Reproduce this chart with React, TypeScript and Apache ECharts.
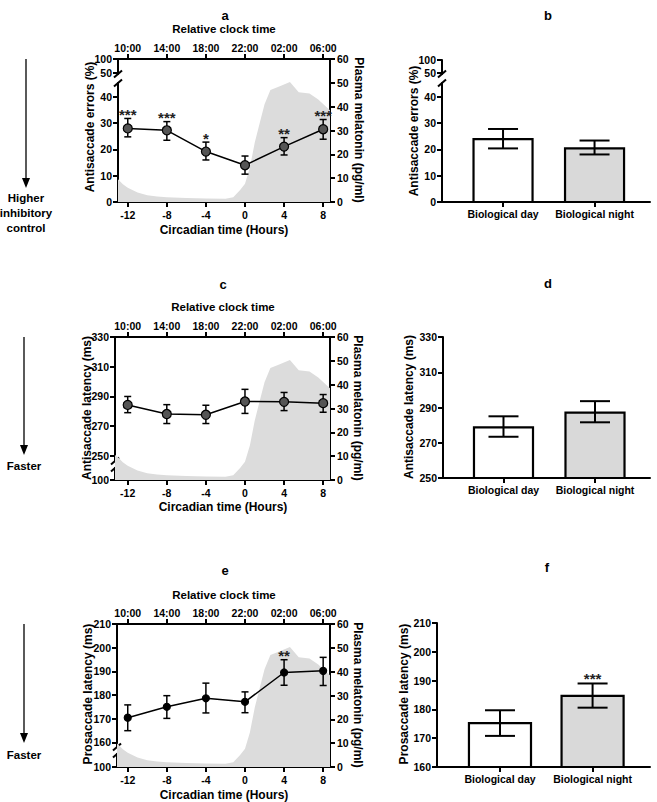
import React, { useEffect, useRef } from 'react';
import * as echarts from 'echarts';

// ---------- data ----------
const circadianHours = [-12, -8, -4, 0, 4, 8];
const clockLabels = ['10:00', '14:00', '18:00', '22:00', '02:00', '06:00'];

const antiErrMean = [28.0, 27.3, 19.2, 14.0, 21.1, 27.7];
const antiErrLow = [24.8, 23.5, 16.0, 10.6, 17.9, 23.9];
const antiErrHigh = [31.8, 30.6, 22.8, 17.5, 24.5, 31.4];
const antiErrStars = ['***', '***', '*', '', '**', '***'];

const antiLatMean = [284.3, 278.2, 277.7, 286.6, 286.4, 285.5];
const antiLatLow = [279.1, 271.8, 271.8, 278.6, 280.5, 279.4];
const antiLatHigh = [290.0, 284.5, 284.1, 294.8, 292.7, 291.3];
const antiLatStars = ['', '', '', '', '', ''];

const proLatMean = [170.4, 175.0, 178.6, 177.1, 189.5, 190.2];
const proLatLow = [164.9, 170.1, 172.4, 172.5, 184.1, 184.0];
const proLatHigh = [175.8, 179.7, 185.0, 181.3, 194.9, 195.9];
const proLatStars = ['', '', '', '', '**', ''];

const melatoninHours = [-13.3, -13, -12.5, -12, -11, -10, -9, -8, -6, -4, -2, -1.2, -0.5, 0, 0.5, 1, 1.5, 2, 2.6, 3.5, 4.6, 5.5, 6.6, 7.5, 8.3, 8.7];
const melatoninValues = [10.5, 9.5, 7.5, 6, 4, 2.8, 2.3, 2, 1.7, 1.5, 1.4, 2, 5, 7.7, 14.5, 25, 33, 41, 47, 48.5, 50.4, 46, 45.5, 43, 40, 38.5];

const bioCategories = ['Biological day', 'Biological night'];
const bioAntiErrMean = [23.9, 20.4];
const bioAntiErrLow = [20.4, 18.1];
const bioAntiErrHigh = [27.8, 23.4];
const bioAntiErrStars = ['', ''];
const bioAntiLatMean = [278.7, 287.1];
const bioAntiLatLow = [273.4, 281.6];
const bioAntiLatHigh = [285.0, 293.6];
const bioAntiLatStars = ['', ''];
const bioProLatMean = [175.2, 184.7];
const bioProLatLow = [170.8, 180.6];
const bioProLatHigh = [179.7, 189.0];
const bioProLatStars = ['', '***'];
const bioFills = ['#ffffff', '#d9d9d9'];

const FONT = '"Liberation Sans", Arial, Helvetica, sans-serif';

// ---------- helpers ----------
const axisLine = (show = true) => ({ show, onZero: false, lineStyle: { color: '#000', width: 2 } });
const ticks = (vals: number[], inside = false) => ({
  show: true, length: 5, inside, customValues: vals, lineStyle: { color: '#000', width: 2 },
});
const labels = (vals: number[], margin: number, formatter?: (v: number) => string) => ({
  show: true, customValues: vals, margin, color: '#000', fontFamily: FONT, fontWeight: 'bold', fontSize: 10.5,
  formatter: formatter || ((v: number) => String(v)),
});

const txt = (text: string, x: number, y: number, size: number, rotation = 0) => ({
  type: 'text', x, y, rotation, silent: true,
  style: {
    text, fill: '#000', fontFamily: FONT, fontWeight: 'bold', fontSize: size,
    align: 'center', verticalAlign: 'middle', textAlign: 'center', textVerticalAlign: 'middle',
  },
});

const seg = (x1: number, y1: number, x2: number, y2: number, w = 1.5) => ({
  type: 'line', silent: true, shape: { x1, y1, x2, y2 }, style: { stroke: '#000', lineWidth: w },
});

const arrow = (x: number, y1: number, y2: number) => ([
  seg(x, y1, x, y2 - 8, 1.3),
  { type: 'polygon', silent: true, shape: { points: [[x - 4, y2 - 10], [x + 4, y2 - 10], [x, y2]] }, style: { fill: '#000' } },
]);

const slashPair = (x: number, yA: number, yB: number) => ([
  seg(x - 4, yA + 3.5, x + 4, yA - 3.5, 2),
  seg(x - 4, yB + 3.5, x + 4, yB - 3.5, 2),
]);

function errorRender(stars: string[], capHalf: number, lw: number) {
  return (params: any, api: any) => {
    const x = api.value(0);
    const lo = api.coord([x, api.value(1)]);
    const hi = api.coord([x, api.value(2)]);
    const st = { stroke: '#000', lineWidth: lw };
    const children: any[] = [
      { type: 'line', shape: { x1: lo[0], y1: lo[1], x2: hi[0], y2: hi[1] }, style: st },
      { type: 'line', shape: { x1: hi[0] - capHalf, y1: hi[1], x2: hi[0] + capHalf, y2: hi[1] }, style: st },
      { type: 'line', shape: { x1: lo[0] - capHalf, y1: lo[1], x2: lo[0] + capHalf, y2: lo[1] }, style: st },
    ];
    const s = stars[params.dataIndex];
    if (s) {
      children.push({
        type: 'text', x: hi[0], y: hi[1] - 4,
        style: { text: s, fill: '#222', fontFamily: FONT, fontWeight: 'bold', fontSize: 15, align: 'center', verticalAlign: 'middle' },
      });
    }
    return { type: 'group', children };
  };
}

function barRender(base: number, barW: number, stars: string[]) {
  return (params: any, api: any) => {
    const x = api.value(0);
    const v = api.value(1);
    const top = api.coord([x, v]);
    const bot = api.coord([x, base]);
    const w = api.size([barW, 0])[0];
    const lo = api.coord([x, api.value(2)]);
    const hi = api.coord([x, api.value(3)]);
    const st = { stroke: '#000', lineWidth: 2 };
    const capHalf = 15;
    const children: any[] = [
      { type: 'rect', shape: { x: top[0] - w / 2, y: top[1], width: w, height: bot[1] - top[1] }, style: { fill: bioFills[params.dataIndex], stroke: '#000', lineWidth: 2.2 } },
      { type: 'line', shape: { x1: lo[0], y1: lo[1], x2: hi[0], y2: hi[1] }, style: st },
      { type: 'line', shape: { x1: hi[0] - capHalf, y1: hi[1], x2: hi[0] + capHalf, y2: hi[1] }, style: st },
      { type: 'line', shape: { x1: lo[0] - capHalf, y1: lo[1], x2: lo[0] + capHalf, y2: lo[1] }, style: st },
    ];
    const s = stars[params.dataIndex];
    if (s) {
      children.push({
        type: 'text', x: hi[0], y: hi[1] - 5,
        style: { text: s, fill: '#222', fontFamily: FONT, fontWeight: 'bold', fontSize: 15, align: 'center', verticalAlign: 'middle' },
      });
    }
    return { type: 'group', children };
  };
}

// ---------- panel layouts ----------
const linePanels = [
  {
    left: 118, top: 59, width: 212, height: 143, xMin: -13,
    up: { top: 59, height: 15, min: 45, max: 100, ticks: [50, 100] },
    low: { top: 83, height: 119, min: 0, max: 45.3, ticks: [0, 10, 20, 30, 40] },
    dataOn: 'low', mean: antiErrMean, lo: antiErrLow, hi: antiErrHigh, stars: antiErrStars,
    markerColor: '#555', markerSize: 9,
  },
  {
    left: 115, top: 337, width: 215, height: 143, xMin: -13.3,
    up: { top: 337, height: 124, min: 246.6, max: 330, ticks: [250, 270, 290, 310, 330] },
    low: { top: 468, height: 12, min: 100, max: 108, ticks: [100] },
    dataOn: 'up', mean: antiLatMean, lo: antiLatLow, hi: antiLatHigh, stars: antiLatStars,
    markerColor: '#555', markerSize: 9,
  },
  {
    left: 117, top: 624, width: 213, height: 143, xMin: -13.1,
    up: { top: 624, height: 123, min: 158, max: 210, ticks: [160, 170, 180, 190, 200, 210] },
    low: { top: 754, height: 13, min: 100, max: 106, ticks: [100] },
    dataOn: 'up', mean: proLatMean, lo: proLatLow, hi: proLatHigh, stars: proLatStars,
    markerColor: '#000', markerSize: 7,
  },
];
const X_MAX = 8.7;

const barPanels = [
  {
    left: 442, width: 208, xMin: -0.667, xMax: 1.606, barW: 0.645,
    segments: [
      { top: 60, height: 14, min: 46, max: 100, ticks: [50, 100], main: false },
      { top: 83, height: 119, min: 0, max: 45.3, ticks: [0, 10, 20, 30, 40], main: true },
    ],
    mean: bioAntiErrMean, lo: bioAntiErrLow, hi: bioAntiErrHigh, stars: bioAntiErrStars,
  },
  {
    left: 443, width: 207, xMin: -0.661, xMax: 1.601, barW: 0.645,
    segments: [{ top: 337, height: 141, min: 250, max: 330, ticks: [250, 270, 290, 310, 330], main: true }],
    mean: bioAntiLatMean, lo: bioAntiLatLow, hi: bioAntiLatHigh, stars: bioAntiLatStars,
  },
  {
    left: 437, width: 213, xMin: -0.68, xMax: 1.62, barW: 0.67,
    segments: [{ top: 623, height: 144, min: 160, max: 210, ticks: [160, 170, 180, 190, 200, 210], main: true }],
    mean: bioProLatMean, lo: bioProLatLow, hi: bioProLatHigh, stars: bioProLatStars,
  },
];

function buildOption() {
  const grid: any[] = [];
  const xAxis: any[] = [];
  const yAxis: any[] = [];
  const series: any[] = [];
  const melData = melatoninHours.map((h, i) => [h, melatoninValues[i]]);
  const hiddenX = (gi: number, min: number, max: number) => ({ type: 'value', gridIndex: gi, min, max, show: false });

  linePanels.forEach((p) => {
    const gMain = grid.length;
    grid.push({ left: p.left, top: p.top, width: p.width, height: p.height });
    const xBottom = xAxis.length;
    xAxis.push({
      type: 'value', gridIndex: gMain, position: 'bottom', min: p.xMin, max: X_MAX,
      axisLine: axisLine(), axisTick: ticks(circadianHours), axisLabel: labels(circadianHours, 7),
      splitLine: { show: false },
    });
    xAxis.push({
      type: 'value', gridIndex: gMain, position: 'top', min: p.xMin, max: X_MAX,
      axisLine: axisLine(), axisTick: ticks(circadianHours),
      axisLabel: labels(circadianHours, 6, (v: number) => clockLabels[circadianHours.indexOf(v)] || ''),
      splitLine: { show: false },
    });
    const yMel = yAxis.length;
    yAxis.push({
      type: 'value', gridIndex: gMain, position: 'right', min: 0, max: 60, interval: 10,
      axisLine: axisLine(), axisTick: ticks([0, 10, 20, 30, 40, 50, 60]),
      axisLabel: labels([0, 10, 20, 30, 40, 50, 60], 7), splitLine: { show: false },
    });
    series.push({
      type: 'line', xAxisIndex: xBottom, yAxisIndex: yMel, data: melData, showSymbol: false, symbol: 'none',
      lineStyle: { width: 0, color: '#dcdcdc' }, areaStyle: { color: '#dcdcdc', opacity: 1 }, silent: true, z: 1, clip: true,
    });

    const segIdx: Record<string, { x: number; y: number }> = {};
    (['up', 'low'] as const).forEach((k) => {
      const s = (p as any)[k];
      const gi = grid.length;
      grid.push({ left: p.left, top: s.top, width: p.width, height: s.height });
      const xi = xAxis.length;
      xAxis.push(hiddenX(gi, p.xMin, X_MAX));
      const yi = yAxis.length;
      yAxis.push({
        type: 'value', gridIndex: gi, position: 'left', min: s.min, max: s.max,
        axisLine: axisLine(), axisTick: ticks(s.ticks), axisLabel: labels(s.ticks, 6), splitLine: { show: false },
      });
      segIdx[k] = { x: xi, y: yi };
    });
    const d = segIdx[p.dataOn];
    series.push({
      type: 'custom', xAxisIndex: d.x, yAxisIndex: d.y, z: 3, silent: true,
      data: circadianHours.map((h, i) => [h, p.lo[i], p.hi[i]]),
      renderItem: errorRender(p.stars, 3.5, 1.5),
    });
    series.push({
      type: 'line', xAxisIndex: d.x, yAxisIndex: d.y, z: 4, silent: true,
      data: circadianHours.map((h, i) => [h, p.mean[i]]),
      symbol: 'circle', symbolSize: p.markerSize, showSymbol: true,
      lineStyle: { color: '#000', width: 1.5 },
      itemStyle: { color: p.markerColor, borderColor: '#000', borderWidth: 1.2 },
    });
  });

  barPanels.forEach((p) => {
    p.segments.forEach((s) => {
      const gi = grid.length;
      grid.push({ left: p.left, top: s.top, width: p.width, height: s.height });
      const xi = xAxis.length;
      if (s.main) {
        xAxis.push({
          type: 'value', gridIndex: gi, position: 'bottom', min: p.xMin, max: p.xMax,
          axisLine: axisLine(), axisTick: ticks([0, 1]),
          axisLabel: labels([0, 1], 6, (v: number) => bioCategories[v] || ''), splitLine: { show: false },
        });
      } else {
        xAxis.push(hiddenX(gi, p.xMin, p.xMax));
      }
      const yi = yAxis.length;
      yAxis.push({
        type: 'value', gridIndex: gi, position: 'left', min: s.min, max: s.max,
        axisLine: axisLine(), axisTick: ticks(s.ticks), axisLabel: labels(s.ticks, 6), splitLine: { show: false },
      });
      if (s.main) {
        series.push({
          type: 'custom', xAxisIndex: xi, yAxisIndex: yi, z: 3, silent: true,
          data: bioCategories.map((_, i) => [i, p.mean[i], p.lo[i], p.hi[i]]),
          renderItem: barRender(s.min, p.barW, p.stars),
        });
      }
    });
  });

  const graphic: any[] = [
    txt('a', 225, 15, 13), txt('b', 548, 15, 13),
    txt('c', 223, 284, 13), txt('d', 548, 283, 13),
    txt('e', 225, 570, 13), txt('f', 547, 567, 13),
    txt('Relative clock time', 224, 29, 11.5),
    txt('Relative clock time', 223, 307, 11.5),
    txt('Relative clock time', 224, 595, 11.5),
    txt('Circadian time (Hours)', 224, 230, 12),
    txt('Circadian time (Hours)', 223, 507, 12),
    txt('Circadian time (Hours)', 224, 795, 12),
    txt('Antisaccade errors (%)', 90, 127, 12, Math.PI / 2),
    txt('Antisaccade latency (ms)', 87, 408, 12, Math.PI / 2),
    txt('Prosaccade latency (ms)', 88, 694, 12, Math.PI / 2),
    txt('Plasma melatonin (pg/ml)', 359, 130, 12, -Math.PI / 2),
    txt('Plasma melatonin (pg/ml)', 358, 408, 12, -Math.PI / 2),
    txt('Plasma melatonin (pg/ml)', 358, 695, 12, -Math.PI / 2),
    txt('Antisaccade errors (%)', 414, 131, 12, Math.PI / 2),
    txt('Antisaccade latency (ms)', 409, 407, 12, Math.PI / 2),
    txt('Prosaccade latency (ms)', 404, 694, 12, Math.PI / 2),
    ...arrow(26, 59, 188),
    txt('Higher', 26, 198, 11.5), txt('inhibitory', 26, 213, 11.5), txt('control', 26, 228, 11.5),
    ...arrow(24, 337, 455),
    txt('Faster', 24, 466, 11.5),
    ...arrow(24, 624, 743),
    txt('Faster', 24, 755, 11.5),
    ...slashPair(118, 74, 83),
    ...slashPair(442, 74, 83),
    ...slashPair(115, 461, 468),
    ...slashPair(117, 747, 754),
  ];

  return {
    animation: false,
    backgroundColor: '#ffffff',
    grid, xAxis, yAxis, series, graphic,
  };
}

export default function App() {
  const ref = useRef<HTMLDivElement>(null);
  useEffect(() => {
    document.body.style.margin = '0';
    const chart = echarts.init(ref.current!, null, { renderer: 'svg' });
    chart.setOption(buildOption() as any);
    return () => chart.dispose();
  }, []);
  return <div ref={ref} style={{ width: 657, height: 802 }} />;
}
